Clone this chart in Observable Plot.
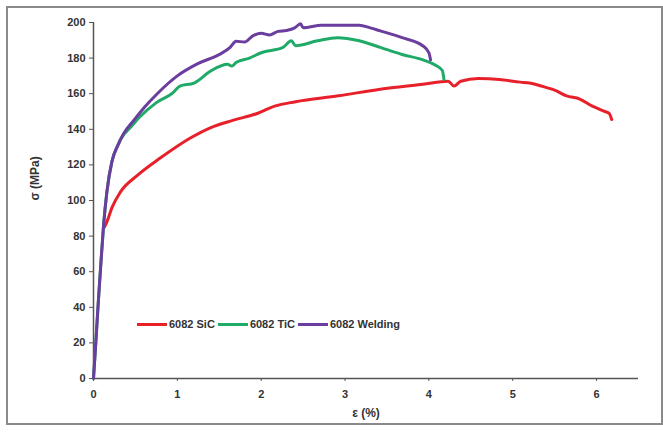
<!DOCTYPE html>
<html>
<head>
<meta charset="utf-8">
<script src="https://cdn.jsdelivr.net/npm/d3@7"></script>
<script src="https://cdn.jsdelivr.net/npm/@observablehq/plot@0.6"></script>
<style>
  html, body { margin: 0; padding: 0; background: #fff; }
  #wrap { position: relative; width: 663px; height: 434px; overflow: hidden; font-family: "Liberation Sans", Arial, sans-serif; }
  #frame { position: absolute; left: 6px; top: 6px; width: 653px; height: 415px; border: 2px solid #8a8a8a; pointer-events: none; }
  #legend { position: absolute; left: 137px; top: 318px; display: flex; align-items: center; font: bold 11px "Liberation Sans", Arial, sans-serif; color: #333; white-space: nowrap; }
  .sw { display: inline-block; width: 30px; height: 3px; margin-right: 2px; }
  .it { display: flex; align-items: center; margin-right: 3px; }
</style>
</head>
<body>
<div id="wrap"><div id="chart"></div><div id="legend"></div><div id="frame"></div></div>
<script>
const seriesNames = ["6082 SiC", "6082 TiC", "6082 Welding"];
const seriesColors = ["#e8202a", "#20aa68", "#6a3d9e"];
const xTicks = [0, 1, 2, 3, 4, 5, 6];
const yTicks = [0, 20, 40, 60, 80, 100, 120, 140, 160, 180, 200];

const weldStrain = [0, 0.03, 0.06, 0.09, 0.12, 0.16, 0.22, 0.29, 0.36, 0.48, 0.6, 0.76, 1.0, 1.25, 1.5, 1.63, 1.7, 1.8, 1.9, 2.0, 2.1, 2.2, 2.3, 2.4, 2.47, 2.5, 2.72, 3.0, 3.17, 3.3, 3.42, 3.68, 3.93, 4.0, 4.02];
const weldStress = [0, 22, 45, 66, 86, 105, 122, 131, 137.6, 145, 152, 160, 170, 177, 182, 186, 189.5, 189, 192.5, 194, 193, 195, 195.5, 197, 199.3, 197, 198.5, 198.5, 198.5, 197, 195.3, 191.5, 186.8, 183, 179];

const ticStrain = [0, 0.03, 0.06, 0.09, 0.12, 0.16, 0.22, 0.29, 0.36, 0.42, 0.545, 0.75, 0.95, 1.03, 1.2, 1.4, 1.6, 1.65, 1.7, 1.86, 2.0, 2.26, 2.36, 2.41, 2.67, 2.91, 3.17, 3.42, 3.68, 3.93, 4.08, 4.16, 4.18];
const ticStress = [0, 22, 45, 66, 86, 105, 122, 131, 137, 140, 146.6, 155, 160.6, 164.3, 166, 172.8, 176.5, 175.5, 177.5, 180, 183, 186, 189.7, 187, 189.7, 191.5, 189.7, 186, 182, 179, 176, 173, 168];

const sicStrain = [0.13, 0.16, 0.22, 0.32, 0.52, 0.8, 1.15, 1.4, 1.66, 1.96, 2.16, 2.41, 2.92, 3.42, 3.93, 4.23, 4.3, 4.38, 4.59, 4.84, 5.09, 5.2, 5.34, 5.5, 5.64, 5.8, 5.95, 6.1, 6.15, 6.18];
const sicStress = [85, 88, 96, 104.7, 114, 124, 135, 141, 145, 149, 153, 155.5, 158.8, 162.5, 165.3, 167, 164.3, 167, 168.5, 168, 166.5, 166, 164.3, 162, 158.8, 157, 153, 150, 149, 145.5];

const rows = [];
sicStrain.forEach((x, i) => rows.push({s: seriesNames[0], x, y: sicStress[i]}));
ticStrain.forEach((x, i) => rows.push({s: seriesNames[1], x, y: ticStress[i]}));
weldStrain.forEach((x, i) => rows.push({s: seriesNames[2], x, y: weldStress[i]}));

const chart = Plot.plot({
  width: 663,
  height: 434,
  marginLeft: 93,
  marginTop: 22,
  marginBottom: 56,
  marginRight: 25,
  style: {fontFamily: "'Liberation Sans', Arial, sans-serif", fontSize: "11px", fontWeight: "bold", color: "#333", background: "transparent"},
  x: {domain: [0, 6.5], label: null},
  y: {domain: [0, 200], label: null},
  color: {domain: seriesNames, range: seriesColors},
  marks: [
    Plot.ruleX([0], {stroke: "#555", strokeWidth: 1.5}),
    Plot.ruleY([0], {stroke: "#555", strokeWidth: 1.5}),
    Plot.line(rows, {x: "x", y: "y", z: "s", stroke: "s", strokeWidth: 3, curve: "monotone-x"}),
    Plot.axisX({ticks: xTicks, tickFormat: "d", tickSize: 3, tickPadding: 9, label: null, stroke: "#555"}),
    Plot.axisY({ticks: yTicks, tickFormat: "d", tickSize: 4, tickPadding: 4, label: null, stroke: "#555"}),
    Plot.text(["ε (%)"], {frameAnchor: "bottom", dy: 38, fontSize: 12, fontWeight: "bold", fill: "#333"}),
    Plot.text(["σ (MPa)"], {frameAnchor: "left", dx: -58, rotate: -90, fontSize: 12, fontWeight: "bold", fill: "#333"})
  ]
});
document.getElementById("chart").appendChild(chart);

const legend = document.getElementById("legend");
seriesNames.forEach((n, i) => {
  const it = document.createElement("span");
  it.className = "it";
  it.innerHTML = `<span class="sw" style="background:${seriesColors[i]}"></span>${n}`;
  legend.appendChild(it);
});
</script>
</body>
</html>
